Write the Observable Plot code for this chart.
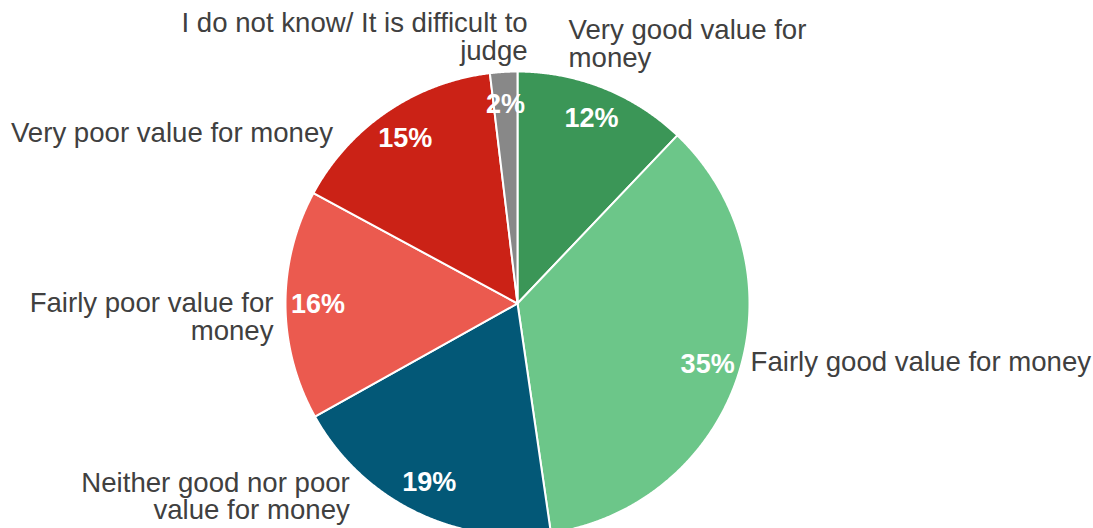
<!DOCTYPE html>
<html>
<head>
<meta charset="utf-8">
<script src="https://cdn.jsdelivr.net/npm/d3@7"></script>
<script src="https://cdn.jsdelivr.net/npm/@observablehq/plot@0.6"></script>
<style>
  html, body { margin: 0; padding: 0; background: #fff; overflow: hidden; }
  #chart svg { display: block; }
</style>
</head>
<body>
<div id="chart"></div>
<script>
// ---- data ----
const categories = [
  "Very good value for money",
  "Fairly good value for money",
  "Neither good nor poor value for money",
  "Fairly poor value for money",
  "Very poor value for money",
  "I do not know/ It is difficult to judge"
];
const shares = [12.1, 35.6, 19.2, 16.0, 15.2, 1.9];
const percentLabels = ["12%", "35%", "19%", "16%", "15%", "2%"];
const categoryLabels = [
  "Very good value for\nmoney",
  "Fairly good value for money",
  "Neither good nor poor\nvalue for money",
  "Fairly poor value for\nmoney",
  "Very poor value for money",
  "I do not know/ It is difficult to\njudge"
];
const colors = ["#3b9657", "#6cc689", "#035877", "#eb5a4f", "#cb2216", "#888888"];

// ---- layout ----
const W = 1093, H = 528;
const cx = 517, cy = 303, R = 232;
// label nudges (px) relative to the slice's outer edge at its mid-angle
const labelNudge = [[-35, -44], [12, -12], [-65, -15], [-12, 12], [-54, 22], [24, -35]];
const labelAnchor = ["start", "start", "end", "end", "end", "end"];

const rows = categories.map((c, i) => ({name: c, value: shares[i], i}));
const arcs = d3.pie().sort(null).value(d => d.value)(rows);

// polygon points (unit circle, y up)
const pts = [];
arcs.forEach(a => {
  pts.push({name: a.data.name, i: a.data.i, u: 0, v: 0});
  const n = Math.max(2, Math.ceil((a.endAngle - a.startAngle) / 0.005));
  for (let k = 0; k <= n; k++) {
    const t = a.startAngle + (a.endAngle - a.startAngle) * k / n;
    pts.push({name: a.data.name, i: a.data.i, u: Math.sin(t), v: Math.cos(t)});
  }
});

const inner = arcs.map(a => {
  const m = (a.startAngle + a.endAngle) / 2;
  return {u: 0.86 * Math.sin(m), v: 0.86 * Math.cos(m), text: percentLabels[a.data.i]};
});
const outer = arcs.map(a => {
  const m = (a.startAngle + a.endAngle) / 2;
  const i = a.data.i;
  return {u: Math.sin(m), v: Math.cos(m), text: categoryLabels[i], dx: labelNudge[i][0], dy: labelNudge[i][1], anchor: labelAnchor[i]};
});

const xDomain = [-cx / R, (W - cx) / R];
const yDomain = [(cy - H) / R, cy / R];

const font = "'Liberation Sans', Arial, Helvetica, sans-serif";

const marks = [
  Plot.line(pts, {
    x: "u", y: "v", z: "name", fill: "name",
    stroke: "white", strokeWidth: 2, strokeLinejoin: "round",
    curve: "linear-closed"
  }),
  Plot.text(inner, {
    x: "u", y: "v", text: "text",
    fill: "white", fontSize: 27, fontWeight: "bold"
  })
];
outer.forEach(o => {
  marks.push(Plot.text([o], {
    x: "u", y: "v", text: "text",
    dx: o.dx, dy: o.dy, textAnchor: o.anchor,
    lineAnchor: "middle", lineHeight: 1.0,
    fill: "#404040", fontSize: 27.6
  }));
});

const chart = Plot.plot({
  width: W, height: H,
  margin: 0,
  x: {domain: xDomain, axis: null},
  y: {domain: yDomain, axis: null},
  color: {domain: categories, range: colors},
  style: {fontFamily: font, background: "white"},
  marks
});
document.getElementById("chart").appendChild(chart);
</script>
</body>
</html>
